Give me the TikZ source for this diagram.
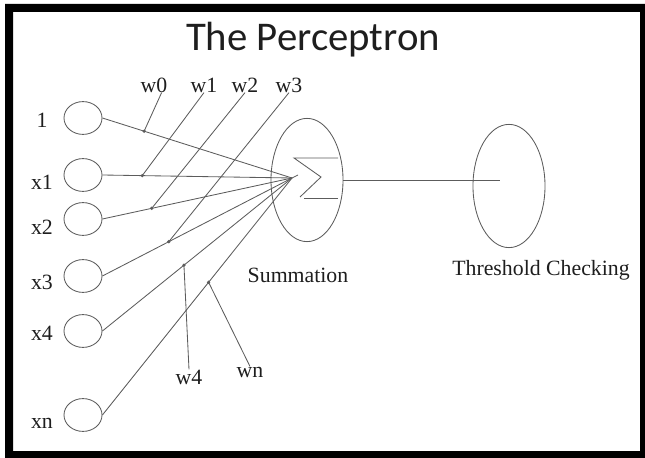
\documentclass[tikz,border=0pt]{standalone}
\usepackage{fontspec}
\setmainfont{Liberation Serif}
\newfontfamily\slidefont{Carlito}
\usetikzlibrary{positioning,shapes.geometric}
\definecolor{wireGrey}{HTML}{5C5C5C}
\definecolor{inkDark}{HTML}{1E1E1E}

\begin{document}
\begin{tikzpicture}[x=0.025cm,y=-0.025cm,
  wire/.style={wireGrey,line width=0.6pt},
  inpt/.style={ellipse,draw=wireGrey,line width=0.6pt,minimum width=0.95cm,minimum height=0.82cm,inner sep=0pt},
  unit/.style={ellipse,draw=wireGrey,line width=0.6pt,minimum width=1.8cm,minimum height=3.08cm,inner sep=0pt},
  lbl/.style={inkDark,font=\fontsize{15.5}{18}\selectfont,inner sep=0pt}]
  \useasboundingbox (0,0) rectangle (645,458);
  % slide frame
  \fill[black,even odd rule] (5,4) rectangle (645,458) (13,12) rectangle (640,451);
  \node[inkDark,font=\slidefont\fontsize{29}{34}\selectfont] (title) at (313,40) {The Perceptron};

  % inputs
  \coordinate (conv) at (292,178);
  \foreach \n/\y/\t/\ly/\p in {0/118/1/120/0.22, 1/175/x1/182/0.21, 2/219/x2/227/0.26,
                               3/276/x3/282/0.35, 4/331/x4/333/0.43, n/415/xn/423/0.56}{
    \node[inpt] (i\n) at (83,\y) {};
    \node[lbl] (l\n) at (42,\ly) {\t};
    \draw[wire] (i\n.east) -- (conv) coordinate[pos=\p] (d\n);
    \fill[wireGrey] (d\n) circle (1.3pt);
  }

  % weights
  \node[lbl] (w0) at (154,85) {w0};
  \node[lbl] (w1) at (204,85) {w1};
  \node[lbl] (w2) at (245,85) {w2};
  \node[lbl] (w3) at (289,85) {w3};
  \node[lbl] (w4) at (189,377) {w4};
  \node[lbl] (wn) at (250,372) {wn};
  \draw[wire] (w0.south east) ++(-6,0) -- (d0);
  \draw[wire] (w1.south) -- (d1);
  \draw[wire] (w2.south) -- (d2);
  \draw[wire] (w3.south) -- (d3);
  \draw[wire] (w4.north) -- (d4);
  \draw[wire] (wn.north) -- (dn);

  % summation unit
  \node[unit] (sum) at (307,180) {};
  \draw[wire] (338,158) -- (294,158) -- (321,177) -- (300,197);
  \draw[wire] (304,198) -- (338,198);
  \draw[wire] (conv) -- (298,175);
  \node[lbl] (suml) at (298,275) {Summation};

  % threshold unit
  \node[unit] (thr) at (509,186) {};
  \coordinate (tend) at (500,180);
  \draw[wire] (sum.east) -- (tend);
  \node[lbl] (thrl) at (541,270) {Threshold Checking};
\end{tikzpicture}
\end{document}
